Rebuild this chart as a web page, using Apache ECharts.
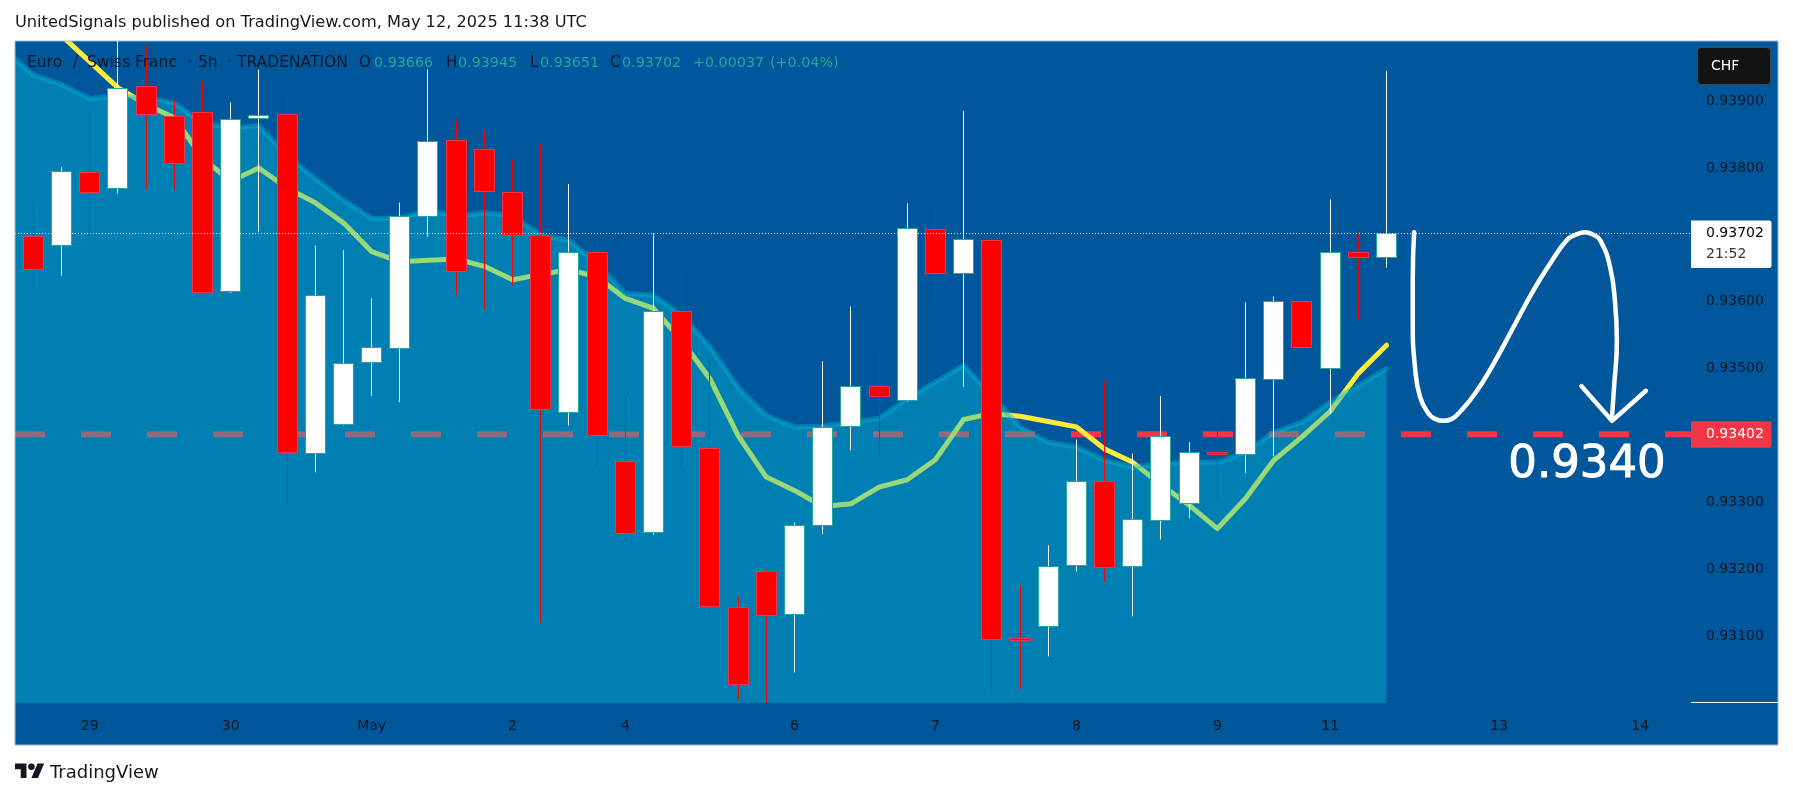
<!DOCTYPE html>
<html>
<head>
<meta charset="utf-8">
<title>EURCHF 5h</title>
<script src="https://cdn.jsdelivr.net/npm/echarts@6/dist/echarts.min.js"></script>
<style>
html, body { margin: 0; padding: 0; background: #fff; }
#main { width: 1793px; height: 798px; }
</style>
</head>
<body>
<div id="main"></div>
<script>
// candles
var opens = [0.93697,0.93684,0.93793,0.93769,0.93922,0.93877,0.93883,0.93615,0.93874,0.93880,0.93373,0.93416,0.93509,0.93530,0.93727,0.93841,0.93827,0.93763,0.93699,0.93434,0.93674,0.93362,0.93255,0.93585,0.93380,0.93143,0.93197,0.93132,0.93266,0.93414,0.93473,0.93452,0.93708,0.93642,0.93691,0.93096,0.93114,0.93206,0.93331,0.93204,0.93273,0.93298,0.93374,0.93371,0.93484,0.93600,0.93500,0.93673,0.93666];
var closes = [0.93649,0.93794,0.93764,0.93919,0.93880,0.93806,0.93614,0.93872,0.93878,0.93374,0.93609,0.93508,0.93531,0.93728,0.93839,0.93645,0.93765,0.93699,0.93439,0.93674,0.93400,0.93254,0.93586,0.93383,0.93144,0.93028,0.93131,0.93265,0.93412,0.93473,0.93458,0.93709,0.93642,0.93693,0.93095,0.93093,0.93204,0.93331,0.93203,0.93274,0.93398,0.93374,0.93371,0.93485,0.93600,0.93531,0.93673,0.93666,0.93702];
var lows = [0.93620,0.93639,0.93697,0.93762,0.93768,0.93768,0.93611,0.93613,0.93705,0.93296,0.93345,0.93415,0.93459,0.93450,0.93697,0.93610,0.93588,0.93625,0.93120,0.93415,0.93351,0.93233,0.93252,0.93351,0.93134,0.93005,0.92998,0.93046,0.93253,0.93378,0.93370,0.93451,0.93601,0.93473,0.93018,0.93021,0.93070,0.93197,0.93181,0.93130,0.93245,0.93277,0.93301,0.93344,0.93369,0.93519,0.93433,0.93573,0.93651];
var highs = [0.93751,0.93801,0.93883,0.93995,0.93982,0.93901,0.93930,0.93898,0.93947,0.93910,0.93684,0.93677,0.93605,0.93748,0.93947,0.93871,0.93856,0.93812,0.93835,0.93776,0.93687,0.93459,0.93702,0.93648,0.93513,0.93160,0.93200,0.93270,0.93511,0.93593,0.93536,0.93747,0.93740,0.93885,0.93696,0.93176,0.93236,0.93394,0.93481,0.93373,0.93459,0.93390,0.93435,0.93599,0.93608,0.93609,0.93753,0.93703,0.93945];

// moving averages, index -1 is the part cut off by the left edge
var areaIndex = [-1,0,1,2,3,4,5,6,7,8,9,10,11,12,13,14,15,16,17,18,19,20,21,22,23,24,25,26,27,28,29,30,31,32,33,34,35,36,37,38,39,40,41,42,43,44,45,46,47,48];
var areaValues = [0.93976,0.93939,0.93925,0.93904,0.93907,0.93906,0.93897,0.93867,0.93860,0.93863,0.93819,0.93784,0.93752,0.93725,0.93725,0.93737,0.93728,0.93733,0.93729,0.93699,0.93692,0.93657,0.93612,0.93610,0.93580,0.93533,0.93472,0.93430,0.93413,0.93414,0.93420,0.93426,0.93455,0.93480,0.93505,0.93460,0.93413,0.93390,0.93383,0.93363,0.93353,0.93358,0.93360,0.93360,0.93375,0.93405,0.93420,0.93450,0.93475,0.93500];
var fastIndex = [1,2,3,4,5,6,7,8,9,10,11,12,13,14,15,16,17,18,19,20,21,22,23,24,25,26,27,28,29,30,31,32,33,34,35,36,37,38,39,40,41,42,43,44,45,46,47,48];
var fastValues = [0.93998,0.93959,0.93920,0.93895,0.93875,0.93815,0.93780,0.93800,0.93770,0.93748,0.93718,0.93675,0.93660,0.93662,0.93664,0.93653,0.93633,0.93641,0.93648,0.93637,0.93605,0.93590,0.93542,0.93485,0.93400,0.93338,0.93318,0.93294,0.93298,0.93323,0.93334,0.93364,0.93424,0.93433,0.93429,0.93421,0.93413,0.93380,0.93360,0.93327,0.93296,0.93261,0.93306,0.93363,0.93398,0.93436,0.93493,0.93535];

// levels
var targetLevel = 0.93402;
var lastClose = 0.93702;

// hand drawn projection
var pathIndex = [48.98,48.93,48.93,49.01,49.19,49.49,49.72,50.02,50.32,50.55,51.14,51.79,52.5,53.21,53.80,54.39,54.69,55.04,55.34,55.58,55.93,56.11,56.17,56.07,55.99];
var pathValues = [0.93704,0.93632,0.93572,0.93502,0.93458,0.93433,0.93425,0.93422,0.93425,0.93433,0.93463,0.93507,0.93562,0.93617,0.93657,0.93692,0.93700,0.93704,0.93700,0.93692,0.93652,0.93597,0.93542,0.93472,0.93423];
var arrowIndex = [54.91,56.0,57.2];
var arrowValues = [0.93474,0.93422,0.93467];

// axis labels
var xTickIndex = [2,7,12,17,21,27,32,37,42,46,52,57];
var xTickLabels = ['29','30','May','2','4','6','7','8','9','11','13','14'];
var yTicks = [0.931,0.932,0.933,0.935,0.936,0.938,0.939];

var xMin = -0.649, xMax = 58.8;
var yMin = 0.930003, yMax = 0.939898;
var FONT = '"DejaVu Sans", sans-serif';

function pairs(xs, ys) {
    return xs.map(function(x, i) { return [x, ys[i]]; });
}

function renderCandle(params, api) {
    var i = api.value(0);
    var open = api.value(1), close = api.value(2);
    var up = close >= open;
    var x = Math.floor(api.coord([i, open])[0]) + 0.5;
    var top = Math.floor(api.coord([i, Math.max(open, close)])[1]) + 0.5;
    var bottom = Math.floor(api.coord([i, Math.min(open, close)])[1]) + 0.5;
    var hy = api.coord([i, api.value(4)])[1];
    var ly = api.coord([i, api.value(3)])[1];
    return {
        type: 'group',
        children: [{
            type: 'line',
            shape: { x1: x, y1: hy, x2: x, y2: ly },
            style: { stroke: up ? '#ffffff' : '#ff0000', lineWidth: 1 }
        }, {
            type: 'rect',
            shape: { x: x - 10, y: top, width: 20, height: bottom - top },
            style: { fill: up ? '#ffffff' : '#ff0000', stroke: up ? '#26a69a' : '#f23645', lineWidth: 1 }
        }]
    };
}

var candleData = opens.map(function(o, i) {
    return [i, o, closes[i], lows[i], highs[i]];
});

var chart = echarts.init(document.getElementById('main'));
chart.setOption({
    animation: false,
    backgroundColor: '#ffffff',
    textStyle: { fontFamily: FONT },
    grid: { left: 15, top: 41, width: 1676, height: 662, containLabel: false },
    xAxis: {
        type: 'value',
        min: xMin,
        max: xMax,
        splitLine: { show: false },
        axisLine: { show: false },
        axisTick: { show: false },
        axisLabel: {
            customValues: xTickIndex,
            formatter: function(v) { return xTickLabels[xTickIndex.indexOf(v)]; },
            color: '#131722',
            fontSize: 14,
            fontFamily: FONT,
            margin: 16
        }
    },
    yAxis: {
        type: 'value',
        position: 'right',
        min: yMin,
        max: yMax,
        splitLine: { show: false },
        axisLine: { show: false },
        axisTick: { show: false },
        axisLabel: {
            customValues: yTicks,
            formatter: function(v) { return v.toFixed(5); },
            color: '#131722',
            fontSize: 14,
            fontFamily: FONT,
            margin: 15
        }
    },
    series: [{
        name: 'target',
        type: 'line',
        z: 1,
        symbol: 'none',
        data: [[xMin, targetLevel], [xMax, targetLevel]],
        lineStyle: { color: '#f23645', width: 6, type: [30, 36] }
    }, {
        name: 'fast',
        type: 'line',
        z: 2,
        symbol: 'none',
        data: pairs(fastIndex, fastValues),
        lineStyle: { color: '#ffeb3b', width: 5, cap: 'round', join: 'round' }
    }, {
        name: 'slow',
        type: 'line',
        z: 3,
        symbol: 'none',
        data: pairs(areaIndex, areaValues),
        lineStyle: { color: 'rgba(0,188,212,0.4)', width: 5, cap: 'round', join: 'round' },
        areaStyle: { color: 'rgba(0,188,212,0.4)', opacity: 1, origin: 'start' }
    }, {
        name: 'candles',
        type: 'custom',
        z: 4,
        clip: true,
        renderItem: renderCandle,
        encode: { x: 0, y: [1, 2, 3, 4] },
        data: candleData
    }, {
        name: 'last',
        type: 'line',
        z: 5,
        symbol: 'none',
        data: [[xMin, lastClose], [xMax, lastClose]],
        lineStyle: { color: '#ffffff', width: 1, type: [1, 2] }
    }, {
        name: 'path',
        type: 'line',
        z: 6,
        symbol: 'none',
        smooth: 0.5,
        data: pairs(pathIndex, pathValues),
        lineStyle: { color: '#ffffff', width: 4.5, cap: 'round', join: 'round' }
    }, {
        name: 'arrow',
        type: 'line',
        z: 6,
        symbol: 'none',
        data: pairs(arrowIndex, arrowValues),
        lineStyle: { color: '#ffffff', width: 4.5, cap: 'round', join: 'round' }
    }]
});

// frame, header, price tags
var lastY = chart.convertToPixel({ yAxisIndex: 0 }, lastClose);
var targetY = chart.convertToPixel({ yAxisIndex: 0 }, targetLevel);
var DARK = '#131722', GREEN = '#26a69a';

function label(x, y, text, color, size, extra) {
    var style = { x: x, y: y, text: text, fill: color, fontSize: size || 14, fontFamily: FONT, textVerticalAlign: 'middle' };
    for (var k in extra) { style[k] = extra[k]; }
    return { type: 'text', z: 20, style: style };
}

function logoPart(points) {
    return { type: 'polygon', z: 20, x: 15, y: 758, scaleX: 0.82, scaleY: 0.8, shape: { points: points }, style: { fill: DARK } };
}

chart.setOption({
    graphic: [
        { type: 'rect', z: -10, shape: { x: 15, y: 41, width: 1763, height: 704 }, style: { fill: '#01579b' } },
        // lines are clipped a little outside the grid, hide that
        { type: 'rect', z: 18, shape: { x: 0, y: 30, width: 15, height: 720 }, style: { fill: '#ffffff' } },
        { type: 'rect', z: 18, shape: { x: 0, y: 30, width: 1793, height: 11 }, style: { fill: '#ffffff' } },
        { type: 'rect', z: 19, shape: { x: 15, y: 41, width: 1763, height: 704 }, style: { fill: 'none', stroke: '#9db8d6', lineWidth: 1 } },
        { type: 'line', z: 15, shape: { x1: 1691.5, y1: 41, x2: 1691.5, y2: 745 }, style: { stroke: '#0a4d85', lineWidth: 1 } },
        { type: 'line', z: 15, shape: { x1: 1691, y1: 702.5, x2: 1778, y2: 702.5 }, style: { stroke: '#ffffff', lineWidth: 1 } },

        label(15, 23, 'UnitedSignals published on TradingView.com, May 12, 2025 11:38 UTC', DARK, 16.2),

        label(27, 63, 'Euro', DARK, 15.5),
        label(73, 63, '/', DARK, 15.5),
        label(87, 63, 'Swiss Franc', DARK, 15.5),
        label(188, 63, '·', DARK, 15.5),
        label(198, 63, '5h', DARK, 15.5),
        label(227, 63, '·', DARK, 15.5),
        label(237, 63, 'TRADENATION', DARK, 15.5),
        label(359, 63, 'O', DARK, 15),
        label(374, 63, '0.93666', GREEN, 14.3),
        label(446, 63, 'H', DARK, 15),
        label(458, 63, '0.93945', GREEN, 14.3),
        label(530, 63, 'L', DARK, 15),
        label(540, 63, '0.93651', GREEN, 14.3),
        label(610, 63, 'C', DARK, 15),
        label(622, 63, '0.93702', GREEN, 14.3),
        label(693, 63, '+0.00037', GREEN, 14.3),
        label(770, 63, '(+0.04%)', GREEN, 14.3),

        { type: 'rect', z: 20, shape: { x: 1697.5, y: 47.5, width: 73, height: 37, r: 4 }, style: { fill: '#131313', stroke: '#3a4a5a', lineWidth: 1 } },
        label(1711, 66, 'CHF', '#ffffff', 14),

        { type: 'rect', z: 20, shape: { x: 1691, y: lastY - 13, width: 80.5, height: 47.5, r: [0, 2, 2, 0] }, style: { fill: '#ffffff' } },
        label(1706, lastY, lastClose.toFixed(5), '#000000', 14),
        label(1706, lastY + 21, '21:52', '#333333', 14),
        { type: 'rect', z: 20, shape: { x: 1691, y: targetY - 13, width: 80.5, height: 26.5, r: [0, 2, 2, 0] }, style: { fill: '#f23645' } },
        label(1706, targetY, targetLevel.toFixed(5), '#ffffff', 14),

        label(1587, 465, '0.9340', '#ffffff', 45, { textAlign: 'center', stroke: '#ffffff', lineWidth: 1 }),

        logoPart([[14, 25], [7, 25], [7, 14], [0, 14], [0, 7], [14, 7]]),
        logoPart([[28, 25], [20, 25], [27.5, 7], [35.5, 7]]),
        { type: 'circle', z: 20, x: 15, y: 758, scaleX: 0.82, scaleY: 0.8, shape: { cx: 20, cy: 11, r: 4 }, style: { fill: DARK } },
        label(50, 773, 'TradingView', DARK, 18)
    ]
});
</script>
</body>
</html>
